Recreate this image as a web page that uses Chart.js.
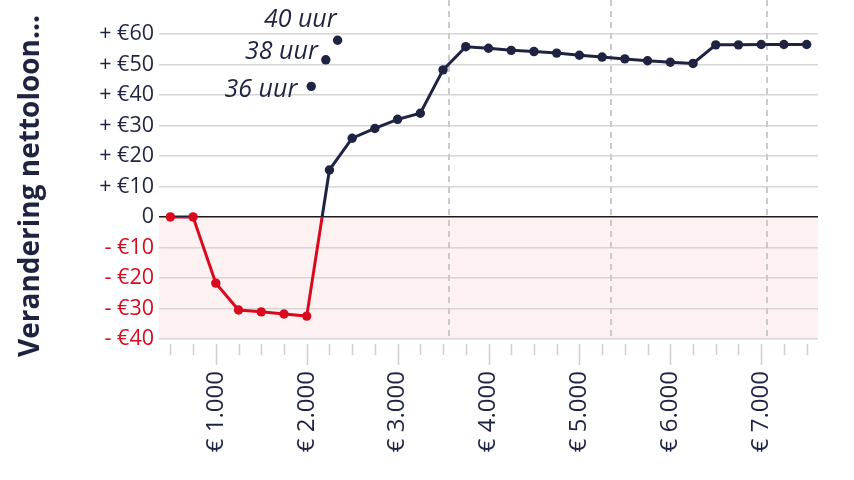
<!DOCTYPE html>
<html>
<head>
<meta charset="utf-8">
<script src="https://cdn.jsdelivr.net/npm/chart.js@4/dist/chart.umd.min.js"></script>
<style>
  html, body { margin: 0; padding: 0; background: #fff; }
  #wrap { width: 854px; height: 480px; }
</style>
</head>
<body>
<div id="wrap"><canvas id="nettoChart"></canvas></div>
<script>
// bruto maandloon (x) en verandering nettoloon (y)
const salaries = [500, 750, 1000, 1250, 1500, 1750, 2000, 2250, 2500, 2750, 3000, 3250, 3500, 3750, 4000,
  4250, 4500, 4750, 5000, 5250, 5500, 5750, 6000, 6250, 6500, 6750, 7000, 7250, 7500];
const change = [0, 0, -21.7, -30.5, -31.1, -31.8, -32.5, 15.4, 25.8, 29.0, 32.0, 34.0, 48.2, 55.8, 55.3,
  54.6, 54.2, 53.7, 53.0, 52.4, 51.8, 51.2, 50.7, 50.3, 56.4, 56.4, 56.5, 56.5, 56.5];

// losse punten voor andere werkweken
const hourLabels = ['36 uur', '38 uur', '40 uur'];
const hourSalary = [2050, 2210, 2340];
const hourChange = [42.8, 51.5, 57.9];

const thresholds = [3560, 5345, 7065];
const yTicks = [-40, -30, -20, -10, 0, 10, 20, 30, 40, 50, 60];
const xMajor = [1000, 2000, 3000, 4000, 5000, 6000, 7000];

const NAVY = '#1f2342';
const RED = '#da0a1e';
const FONT = "'Open Sans', 'Noto Sans', sans-serif";

const crt = document.getElementById('nettoChart');

// roze vlak onder nul, stippellijnen en tickstreepjes
const decor = {
  id: 'decor',
  beforeDraw(chart) {
    const { ctx, chartArea: a, scales } = chart;
    const y0 = scales.y.getPixelForValue(0);
    ctx.save();
    ctx.fillStyle = '#fdf1f2';
    ctx.fillRect(a.left, y0, a.right - a.left, a.bottom - y0);
    ctx.restore();
  },
  beforeDatasetsDraw(chart) {
    const { ctx, chartArea: a, scales } = chart;
    ctx.save();
    ctx.strokeStyle = '#cacaca';
    ctx.lineWidth = 2;
    ctx.setLineDash([6, 5]);
    thresholds.forEach(t => {
      const x = Math.round(scales.x.getPixelForValue(t));
      ctx.beginPath();
      ctx.moveTo(x, a.top);
      ctx.lineTo(x, a.bottom);
      ctx.stroke();
    });
    ctx.restore();
  },
  afterDraw(chart) {
    const { ctx, chartArea: a, scales } = chart;
    ctx.save();
    ctx.strokeStyle = '#cfcfcf';
    ctx.lineWidth = 1.5;
    salaries.forEach(s => {
      const x = Math.round(scales.x.getPixelForValue(s)) + 0.5;
      const len = xMajor.includes(s) ? 21 : 11;
      ctx.beginPath();
      ctx.moveTo(x, a.bottom + 5);
      ctx.lineTo(x, a.bottom + 5 + len);
      ctx.stroke();
    });

    // labels bij de losse punten
    const offs = [[-14, 4], [-8, -8], [-1, -20]];
    const meta = chart.getDatasetMeta(1);
    ctx.fillStyle = NAVY;
    ctx.font = "italic 25px " + FONT;
    ctx.textAlign = 'right';
    ctx.textBaseline = 'middle';
    meta.data.forEach((p, i) => {
      ctx.fillText(hourLabels[i], p.x + offs[i][0], p.y + offs[i][1]);
    });

    // as-titel
    ctx.translate(31, 186);
    ctx.rotate(-Math.PI / 2);
    ctx.font = "bold 28px " + FONT;
    ctx.textAlign = 'center';
    ctx.fillText('Verandering nettoloon...', 0, 0);
    ctx.restore();
  }
};

function lineColor(c) {
  const { chart } = c;
  const { chartArea, scales } = chart;
  if (!chartArea) return NAVY;
  const y0 = scales.y.getPixelForValue(0);
  const g = chart.ctx.createLinearGradient(0, chartArea.top, 0, chartArea.bottom);
  const f = Math.min(1, Math.max(0, (y0 - chartArea.top) / (chartArea.bottom - chartArea.top)));
  g.addColorStop(0, NAVY);
  g.addColorStop(f, NAVY);
  g.addColorStop(f, RED);
  g.addColorStop(1, RED);
  return g;
}

new Chart(crt, {
  type: 'line',
  data: {
    datasets: [{
      data: salaries.map((s, i) => ({ x: s, y: change[i] })),
      borderColor: lineColor,
      borderWidth: 3,
      pointRadius: 4.7,
      pointHoverRadius: 4.7,
      pointBorderWidth: 0,
      pointBackgroundColor: c => (c.raw && c.raw.y > 0 ? NAVY : RED),
      tension: 0,
      clip: false
    }, {
      data: hourSalary.map((s, i) => ({ x: s, y: hourChange[i] })),
      showLine: false,
      pointRadius: 4.7,
      pointBorderWidth: 0,
      pointBackgroundColor: NAVY,
      clip: false
    }]
  },
  options: {
    responsive: true,
    maintainAspectRatio: false,
    animation: false,
    layout: { autoPadding: false, padding: { top: 0, right: 36, left: 0, bottom: 0 } },
    plugins: { legend: { display: false }, tooltip: { enabled: false } },
    scales: {
      x: {
        type: 'linear',
        min: 375,
        max: 7625,
        afterBuildTicks: s => { s.ticks = salaries.map(v => ({ value: v })); },
        afterFit: s => { s.height = 141; s.paddingLeft = 0; s.paddingRight = 0; },
        border: { display: false },
        grid: { display: false, drawTicks: false },
        ticks: {
          autoSkip: false,
          minRotation: 90,
          maxRotation: 90,
          padding: 32,
          color: NAVY,
          font: { family: FONT, size: 24 },
          callback: v => (xMajor.includes(v) ? '€ ' + v.toLocaleString('nl-NL') : '')
        }
      },
      y: {
        min: -40,
        max: 71.1,
        afterBuildTicks: s => { s.ticks = yTicks.map(v => ({ value: v })); },
        afterFit: s => { s.width = 159; s.paddingTop = 0; s.paddingBottom = 0; },
        border: { display: false },
        grid: {
          drawTicks: false,
          color: c => (c.tick && c.tick.value === 0 ? '#1a1a1a' : '#d6d6d6'),
          lineWidth: 1.5
        },
        ticks: {
          padding: 5,
          color: c => (c.tick.value < 0 ? RED : NAVY),
          font: { family: FONT, size: 21.5 },
          callback: v => (v > 0 ? '+ €' + v : v < 0 ? '- €' + (-v) : '0')
        }
      }
    }
  },
  plugins: [decor]
});
</script>
</body>
</html>
